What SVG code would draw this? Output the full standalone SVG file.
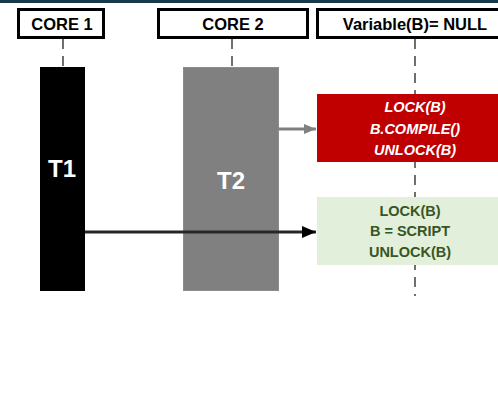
<svg xmlns="http://www.w3.org/2000/svg" width="498" height="403" viewBox="0 0 498 403">
<defs>
<style>
.hdr{fill:#fff;stroke:#000;stroke-width:3}
.ht{font-family:"Liberation Sans",Arial,sans-serif;font-weight:bold;font-size:16.5px;fill:#000;text-anchor:middle}
.life{stroke:#404040;stroke-width:1.5;stroke-dasharray:10 7;fill:none}
.tt{font-family:"Liberation Sans",Arial,sans-serif;font-weight:bold;font-size:24px;fill:#fff;text-anchor:middle}
.rt{font-family:"Liberation Sans",Arial,sans-serif;font-weight:bold;font-style:italic;font-size:14.5px;fill:#fff;text-anchor:middle}
.gt{font-family:"Liberation Sans",Arial,sans-serif;font-weight:bold;font-size:14.5px;fill:#375623;text-anchor:middle}
</style>
<marker id="ag" markerWidth="12" markerHeight="10" refX="12" refY="5" orient="auto" markerUnits="userSpaceOnUse"><path d="M0,0 L12,5 L0,10 Z" fill="#808080"/></marker>
<marker id="ab" markerWidth="14" markerHeight="12" refX="14" refY="6" orient="auto" markerUnits="userSpaceOnUse"><path d="M0,0 L14,6 L0,12 Z" fill="#000"/></marker>
</defs>
<rect x="0" y="0" width="498" height="3" fill="#17394a"/>
<g id="lifelines">
<line class="life" x1="63" y1="39" x2="63" y2="67"/>
<line class="life" x1="232" y1="39" x2="232" y2="67"/>
<line class="life" x1="415" y1="39" x2="415" y2="296"/>
</g>
<g id="core1"><rect class="hdr" x="18.5" y="9.5" width="85" height="28"/><text class="ht" x="62" y="29.5">CORE 1</text></g>
<g id="core2"><rect class="hdr" x="158.5" y="9.5" width="149" height="28"/><text class="ht" x="233" y="29.5">CORE 2</text></g>
<g id="varb"><rect class="hdr" x="317.5" y="9.5" width="190" height="28"/><text class="ht" x="415" y="29.5">Variable(B)= NULL</text></g>
<g id="t1"><rect x="40" y="67" width="45" height="224" fill="#000"/><text class="tt" x="62" y="177">T1</text></g>
<g id="t2"><rect x="183.5" y="67.5" width="95" height="223" fill="#808080" stroke="#8c8c8c" stroke-width="1"/><text class="tt" x="231" y="189">T2</text></g>
<g id="red"><rect x="317" y="94" width="181" height="68" fill="#c00000"/>
<text class="rt" x="415" y="112">LOCK(B)</text><text class="rt" x="415" y="134">B.COMPILE()</text><text class="rt" x="415" y="155">UNLOCK(B)</text></g>
<g id="green"><rect x="317" y="197" width="181" height="68" fill="#e2efda"/>
<text class="gt" x="410" y="216">LOCK(B)</text><text class="gt" x="410" y="236">B = SCRIPT</text><text class="gt" x="410" y="257">UNLOCK(B)</text></g>
<g id="connectors">
<line x1="279" y1="129" x2="316" y2="129" stroke="#808080" stroke-width="3" marker-end="url(#ag)"/>
<line x1="85" y1="232" x2="316" y2="232" stroke="#262626" stroke-width="3" marker-end="url(#ab)"/>
</g>
</svg>
